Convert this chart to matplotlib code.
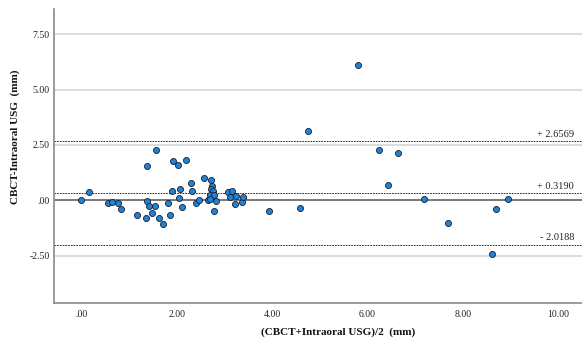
import matplotlib
matplotlib.use("Agg")
import matplotlib.pyplot as plt

# Data: mean of the two methods (x) and their difference (y)
mean_mm = [0.00, 0.17, 0.55, 0.64, 0.76, 0.83, 1.17, 1.35, 1.38, 1.38,
           1.41, 1.48, 1.54, 1.57, 1.63, 1.71, 1.81, 1.85, 1.91, 1.93,
           2.02, 2.05, 2.07, 2.12, 2.19, 2.30, 2.33, 2.41, 2.47,
           2.57, 2.71, 2.74, 2.73, 2.77, 2.69, 2.78, 2.65, 2.70, 2.83, 2.79,
           3.08, 3.16, 3.11, 3.22, 3.25, 3.38, 3.39,
           3.94, 4.59,
           5.81, 4.75, 6.24, 6.64, 6.44, 7.18, 8.95, 8.70, 7.70, 8.62]
diff_mm = [0.00, 0.36, -0.14, -0.08, -0.11, -0.39, -0.68, -0.78, 1.55, -0.02,
           -0.27, -0.56, -0.27, 2.29, -0.78, -1.09, -0.14, -0.66, 0.43, 1.76,
           1.58, 0.12, 0.50, -0.29, 1.84, 0.80, 0.43, -0.14, 0.00,
           1.02, 0.90, 0.66, 0.52, 0.41, 0.23, 0.23, 0.00, 0.05, -0.03, -0.48,
           0.39, 0.43, 0.16, -0.15, 0.21, -0.08, 0.16,
           -0.47, -0.36,
           6.11, 3.15, 2.29, 2.15, 0.69, 0.07, 0.04, -0.38, -1.01, -2.44]

ref_values = [2.6569, 0.3190, -2.0188]
ref_labels = ["+ 2.6569", "+ 0.3190", "- 2.0188"]

x_ticks = [0, 2, 4, 6, 8, 10]
x_tick_labels = [".00", "2.00", "4.00", "6.00", "8.00", "10.00"]
y_ticks = [-2.5, 0, 2.5, 5, 7.5]
y_tick_labels = ["-2.50", ".00", "2.50", "5.00", "7.50"]

plt.rcParams['font.family'] = ['Liberation Serif', 'DejaVu Serif']

fig = plt.figure(figsize=(5.82, 3.42), dpi=100)
ax = fig.add_axes([54/582, 1 - 303.3/342, 1 - 54/582, (303.3 - 9)/342])

ax.set_xlim(-0.572, 10.5)
ax.set_ylim(-4.65, 8.64)

# grid lines
for yt in y_ticks:
    if yt == 0:
        continue
    ax.axhline(yt, color='#d6d6d6', lw=1.2, zorder=0)
ax.axhline(0, color='#555555', lw=1.1, zorder=1)

for v, lab in zip(ref_values, ref_labels):
    ax.axhline(v, color='#333333', lw=0.7, ls=(0, (1.8, 1)), zorder=1)
    ax.text(0.985, v + 0.12, lab, transform=ax.get_yaxis_transform(),
            ha='right', va='bottom', fontsize=7.5, color='#222222')

ax.scatter(mean_mm, diff_mm, s=19, facecolor='#1f84d6', edgecolor='#1a1a2e',
           linewidths=0.6, zorder=3)

ax.set_xticks(x_ticks)
ax.set_xticklabels(x_tick_labels)
ax.set_yticks(y_ticks)
ax.set_yticklabels(y_tick_labels)
ax.tick_params(axis='both', length=0, labelsize=7, colors='#222222')
ax.tick_params(axis='x', pad=5)
ax.tick_params(axis='y', pad=3)

for s in ['top', 'right']:
    ax.spines[s].set_visible(False)
for s in ['left', 'bottom']:
    ax.spines[s].set_color('#8a8a8a')
    ax.spines[s].set_linewidth(1.2)

fig.text(338/582, 1 - 332/342, "(CBCT+Intraoral USG)/2  (mm)", ha='center',
         va='center', fontsize=8, fontweight='bold', color='#111111')
fig.text(15/582, 1 - 137/342, "CBCT-Intraoral USG  (mm)", ha='center',
         va='center', rotation=90, fontsize=8, fontweight='bold', color='#111111')

fig.savefig("out.png", dpi=100)
